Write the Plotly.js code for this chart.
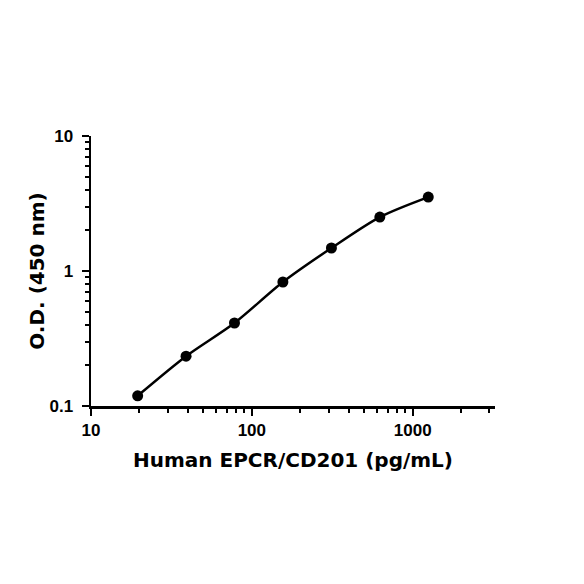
<!DOCTYPE html>
<html>
<head>
<meta charset="utf-8">
<script src="https://cdn.plot.ly/plotly-3.0.1.min.js"></script>
<style>html,body{margin:0;padding:0;background:#fff;}#chart{width:584px;height:584px;}</style>
</head>
<body>
<div id="chart"></div>
<script>
const concentration = [19.5, 39, 78, 156, 312.5, 625, 1250];
const od = [0.119, 0.234, 0.412, 0.829, 1.48, 2.51, 3.53];
const xTickVals = [10, 100, 1000];
const xTickText = ['10', '100', '1000'];
const xMinorVals = [20, 30, 40, 50, 60, 70, 80, 90, 200, 300, 400, 500, 600, 700, 800, 900, 2000, 3000];
const yTickVals = [0.1, 1, 10];
const yTickText = ['0.1', '1', '10'];
const yMinorVals = [0.2, 0.3, 0.4, 0.5, 0.6, 0.7, 0.8, 0.9, 2, 3, 4, 5, 6, 7, 8, 9];

const titleFam = '"DejaVu Sans", sans-serif';
const tickFam = '"Liberation Sans", Arial, sans-serif';
const bold = s => '<b>' + s + '</b>';

Plotly.newPlot('chart', [
  {
    x: concentration, y: od, mode: 'lines', type: 'scatter',
    line: {shape: 'spline', color: '#000', width: 2.5, smoothing: 0.8},
    hoverinfo: 'skip', showlegend: false
  },
  {
    x: concentration, y: od, mode: 'markers', type: 'scatter',
    marker: {color: '#000', size: 11},
    showlegend: false
  }
], {
  width: 584, height: 584,
  margin: {l: 91, r: 89, t: 136, b: 178},
  paper_bgcolor: '#fff', plot_bgcolor: '#fff',
  font: {family: tickFam, color: '#000'},
  xaxis: {
    type: 'log', range: [1, Math.log10(3250)],
    tickmode: 'array', tickvals: xTickVals, ticktext: xTickText.map(bold),
    ticks: 'outside', ticklen: 7, tickwidth: 2, tickcolor: '#000',
    minor: {tickmode: 'array', tickvals: xMinorVals, ticks: 'outside', ticklen: 4, tickwidth: 2, tickcolor: '#000', showgrid: false},
    showline: true, linecolor: '#000', linewidth: 2.5,
    showgrid: false, zeroline: false,
    tickfont: {size: 17, family: tickFam, color: '#000'},
    title: {text: '<b>Human EPCR/CD201 (pg/mL)</b>', font: {size: 20, family: titleFam}, standoff: 14}
  },
  yaxis: {
    type: 'log', range: [-1, 1],
    tickmode: 'array', tickvals: yTickVals, ticktext: yTickText.map(bold),
    ticks: 'outside', ticklen: 7, tickwidth: 2, tickcolor: '#000',
    ticklabelstandoff: 5,
    minor: {tickmode: 'array', tickvals: yMinorVals, ticks: 'outside', ticklen: 4, tickwidth: 2, tickcolor: '#000', showgrid: false},
    showline: true, linecolor: '#000', linewidth: 2.5,
    showgrid: false, zeroline: false,
    tickfont: {size: 17, family: tickFam, color: '#000'},
    title: {text: '<b>O.D. (450 nm)</b>', font: {size: 20, family: titleFam}, standoff: 0}
  }
}, {displayModeBar: false, staticPlot: true});
</script>
</body>
</html>
